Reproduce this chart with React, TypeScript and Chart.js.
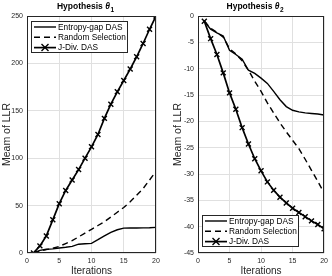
import { useEffect, useRef } from "react";
import { Chart, registerables } from "chart.js";

Chart.register(...registerables);

const FONT = "'Liberation Sans', Arial, Helvetica, sans-serif";

const iterations = [1, 2, 3, 4, 5, 6, 7, 8, 9, 10, 11, 12, 13, 14, 15, 16, 17, 18, 19, 20];
const seriesLabels = ["Entropy-gap DAS", "Random Selection", "J-Div. DAS"];
const xTicks = [0, 5, 10, 15, 20];

// Hypothesis theta_1
const entropyGap1 = [0, 2.8, 4, 4.3, 5.3, 6, 7, 9.3, 9.8, 10.2, 14, 18, 21.7, 24.5, 26.2, 26.3, 26.3, 26.5, 26.6, 27];
const randomSel1 = [0, 2, 3.5, 5, 7, 10, 13, 17, 21, 25, 29, 33, 38, 43, 48, 54, 61, 68, 77, 86];
const jDiv1 = [0, 7.5, 18, 35, 52, 66, 77, 88, 100, 112, 125, 142, 157, 170, 182, 194, 207, 221, 236, 250];
const yTicks1 = [0, 50, 100, 150, 200, 250];

// Hypothesis theta_2
const entropyGap2 = [-1, -2.5, -3.2, -3.8, -6.5, -7.3, -8.2, -10.3, -10.9, -11.8, -12.8, -14.3, -15.9, -17.2, -17.9, -18.2, -18.4, -18.5, -18.6, -18.8];
const randomSel2 = [-1, -2.3, -3.1, -4, -6.2, -7.2, -8.5, -10.3, -12.4, -14.3, -16.5, -18.4, -20.3, -22, -23.6, -25.2, -27.2, -29.3, -31.4, -33.6];
const jDiv2 = [-1, -4.3, -7.3, -10.8, -14.6, -17.7, -21.2, -24.3, -27.1, -29.4, -31.5, -33.1, -34.4, -35.5, -36.5, -37.3, -38.1, -38.9, -39.6, -40.4];
const yTicks2 = [-45, -40, -35, -30, -25, -20, -15, -10, -5, 0];

type PanelSpec = {
  sub: string;
  entropy: number[];
  random: number[];
  jdiv: number[];
  yTicks: number[];
  yAxisWidth: number;
  padRight: number;
  yTitlePad: number;
  legendCorner: "top" | "bottom";
};

const AX = "#262626";

function drawCross(ctx: CanvasRenderingContext2D, x: number, y: number, r: number) {
  ctx.beginPath();
  ctx.moveTo(x - r, y - r);
  ctx.lineTo(x + r, y + r);
  ctx.moveTo(x - r, y + r);
  ctx.lineTo(x + r, y - r);
  ctx.stroke();
}

function decorPlugin(p: PanelSpec) {
  return {
    id: "decor",
    afterDraw(chart: any) {
      const { ctx, chartArea: a } = chart;
      ctx.save();
      // frame
      ctx.strokeStyle = AX;
      ctx.lineWidth = 1;
      ctx.strokeRect(Math.round(a.left) + 0.5, Math.round(a.top) + 0.5, Math.round(a.right - a.left) - 1, Math.round(a.bottom - a.top) - 1);

      // title
      const cx = (a.left + a.right) / 2 - 6;
      const base = 9;
      ctx.fillStyle = "#000";
      ctx.textBaseline = "alphabetic";
      const f1 = `bold 8.5px ${FONT}`;
      const f2 = `italic bold 8.5px ${FONT}`;
      const f3 = `bold 6.5px ${FONT}`;
      ctx.font = f1;
      const w1 = ctx.measureText("Hypothesis ").width;
      ctx.font = f2;
      const w2 = ctx.measureText("θ").width;
      ctx.font = f3;
      const w3 = ctx.measureText(p.sub).width;
      let x0 = cx - (w1 + w2 + w3 + 0.5) / 2;
      ctx.textAlign = "left";
      ctx.font = f1;
      ctx.fillText("Hypothesis ", x0, base);
      x0 += w1;
      ctx.font = f2;
      ctx.fillText("θ", x0, base);
      x0 += w2 + 0.5;
      ctx.font = f3;
      ctx.fillText(p.sub, x0, base + 2.5);

      // legend
      const bw = 97;
      const bh = 32;
      const bx = Math.round(a.left) + 4;
      const by = p.legendCorner === "top" ? Math.round(a.top) + 5 : Math.round(a.bottom) - 6 - bh;
      ctx.fillStyle = "#fff";
      ctx.fillRect(bx, by, bw, bh);
      ctx.strokeStyle = AX;
      ctx.lineWidth = 1;
      ctx.strokeRect(bx + 0.5, by + 0.5, bw - 1, bh - 1);
      const ds = chart.data.datasets;
      ctx.font = `8.3px ${FONT}`;
      ctx.textBaseline = "middle";
      for (let i = 0; i < ds.length; i++) {
        const yy = by + 6 + i * 10.3;
        ctx.strokeStyle = "#000";
        ctx.lineWidth = ds[i].borderWidth;
        ctx.setLineDash(ds[i].borderDash || []);
        ctx.beginPath();
        ctx.moveTo(bx + 3, yy);
        ctx.lineTo(bx + 25, yy);
        ctx.stroke();
        ctx.setLineDash([]);
        if (ds[i].pointRadius > 0) {
          ctx.lineWidth = ds[i].pointBorderWidth;
          drawCross(ctx, bx + 14, yy, ds[i].pointRadius);
        }
        ctx.fillStyle = "#000";
        ctx.fillText(ds[i].label, bx + 27, yy + 0.5);
      }
      ctx.restore();
    },
  };
}

function makeConfig(p: PanelSpec): any {
  const pts = (vals: number[]) => iterations.map((x, i) => ({ x, y: vals[i] }));
  return {
    type: "line",
    data: {
      datasets: [
        { label: seriesLabels[0], data: pts(p.entropy), borderColor: "#000", borderWidth: 1.4, pointRadius: 0, tension: 0, fill: false },
        { label: seriesLabels[1], data: pts(p.random), borderColor: "#000", borderWidth: 1.4, borderDash: [6, 4], pointRadius: 0, tension: 0, fill: false },
        {
          label: seriesLabels[2],
          data: pts(p.jdiv),
          borderColor: "#000",
          borderWidth: 1.7,
          pointStyle: "crossRot",
          pointRadius: 3.5,
          pointBorderWidth: 1.4,
          pointBorderColor: "#000",
          pointBackgroundColor: "#000",
          tension: 0,
          fill: false,
        },
      ],
    },
    options: {
      responsive: false,
      animation: false,
      events: [],
      layout: { padding: { top: 16, right: p.padRight, left: 0, bottom: 0 } },
      plugins: { legend: { display: false }, tooltip: { enabled: false }, title: { display: false } },
      scales: {
        x: {
          type: "linear",
          min: 0,
          max: 20,
          afterBuildTicks: (s: any) => {
            s.ticks = xTicks.map((v) => ({ value: v }));
          },
          afterFit: (s: any) => {
            s.height = 23;
          },
          grid: { color: "#e0e0e0", drawTicks: false },
          border: { display: false },
          ticks: { padding: 4, font: { size: 7, family: FONT }, color: AX, maxRotation: 0 },
          title: { display: true, text: "Iterations", color: AX, font: { size: 10, family: FONT, lineHeight: 1 }, padding: { top: 0, bottom: 0 } },
        },
        y: {
          type: "linear",
          min: p.yTicks[0],
          max: p.yTicks[p.yTicks.length - 1],
          afterBuildTicks: (s: any) => {
            s.ticks = p.yTicks.map((v) => ({ value: v }));
          },
          afterFit: (s: any) => {
            s.width = p.yAxisWidth;
          },
          grid: { color: "#e0e0e0", drawTicks: false },
          border: { display: false },
          ticks: { padding: 4, font: { size: 7, family: FONT }, color: AX },
          title: { display: true, text: "Meam of LLR", color: AX, font: { size: 10.5, family: FONT, lineHeight: 1 }, padding: { top: p.yTitlePad, bottom: 0 } },
        },
      },
    },
    plugins: [decorPlugin(p)],
  };
}

const panels: PanelSpec[] = [
  { sub: "1", entropy: entropyGap1, random: randomSel1, jdiv: jDiv1, yTicks: yTicks1, yAxisWidth: 27, padRight: 10, yTitlePad: 2.3, legendCorner: "top" },
  { sub: "2", entropy: entropyGap2, random: randomSel2, jdiv: jDiv2, yTicks: yTicks2, yAxisWidth: 32, padRight: 4, yTitlePad: 7, legendCorner: "bottom" },
];

function Panel({ spec, left }: { spec: PanelSpec; left: number }) {
  const ref = useRef<HTMLCanvasElement | null>(null);
  useEffect(() => {
    if (!ref.current) return;
    const chart = new Chart(ref.current, makeConfig(spec));
    return () => chart.destroy();
  }, [spec]);
  return <canvas ref={ref} width={166} height={276} style={{ position: "absolute", left, top: 0, width: 166, height: 276 }} />;
}

export default function App() {
  return (
    <div style={{ position: "fixed", left: 0, top: 0, width: 332, height: 276, background: "#fff", overflow: "hidden" }}>
      <Panel spec={panels[0]} left={0} />
      <Panel spec={panels[1]} left={166} />
    </div>
  );
}
